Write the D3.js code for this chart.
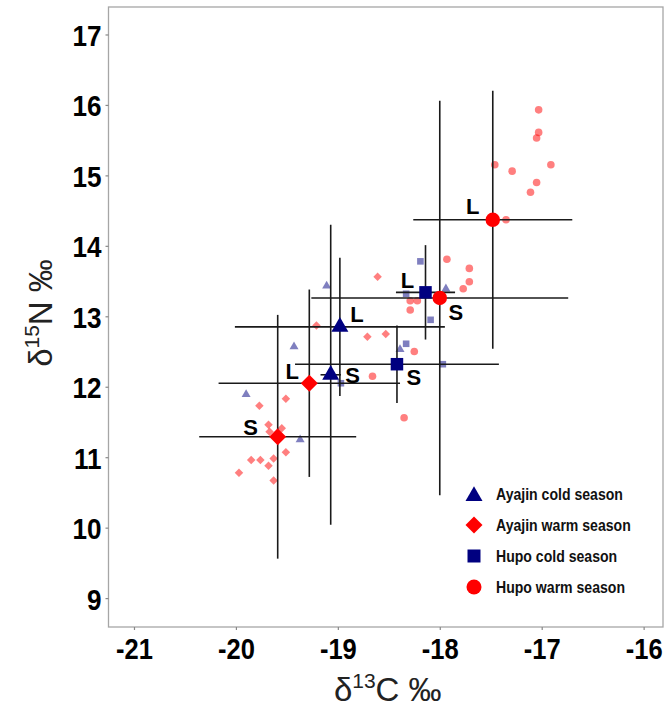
<!DOCTYPE html>
<html lang="en">
<head>
    <meta charset="UTF-8">
    <title>Isotope biplot</title>
    <script src="https://d3js.org/d3.v7.min.js"></script>
    <style>
        body {
            margin: 0;
            background-color: #fff;
        }
        svg {
            display: block;
            font-family: "Liberation Sans", Arial, sans-serif;
        }
    </style>
</head>
<body>
    <svg id="chart" width="669" height="720"></svg>
    <script>
        // Groups (legend order)
        const groups = ["Ayajin cold season", "Ayajin warm season", "Hupo cold season", "Hupo warm season"];

        // Group means, with season label and SD error bars
        const meanGroup = [3, 3, 2, 2, 0, 0, 1, 1];
        const meanLabel = ["L", "S", "L", "S", "L", "S", "L", "S"];
        const meanC = [-17.48, -18.00, -18.14, -18.42, -18.98, -19.07, -19.28, -19.59];
        const meanN = [14.37, 13.26, 13.34, 12.32, 12.85, 12.17, 12.05, 11.29];
        const sdC = [0.78, 1.26, 0.29, 1.00, 1.03, 0.10, 0.89, 0.77];
        const sdN = [1.83, 2.80, 0.67, 0.55, 0.98, 2.13, 1.33, 1.73];

        // Individual samples
        const ayajinColdC = [-19.11, -19.43, -19.90, -19.37, -18.39, -17.94];
        const ayajinColdN = [13.43, 12.57, 11.89, 11.25, 12.53, 13.39];
        const ayajinWarmC = [-18.61, -19.21, -18.71, -18.53, -19.51, -19.77, -19.68, -19.55, -19.67,
                             -19.51, -19.63, -19.76, -19.85, -19.68, -19.97, -19.63];
        const ayajinWarmN = [13.56, 12.87, 12.71, 12.75, 11.83, 11.73, 11.46, 11.41, 11.36,
                             11.07, 10.98, 10.96, 10.96, 10.88, 10.78, 10.67];
        const hupoColdC = [-18.19, -18.33, -18.09, -18.33, -17.97, -18.97];
        const hupoColdN = [13.78, 13.32, 12.95, 12.61, 12.32, 12.05];
        const hupoWarmC = [-17.03, -17.03, -17.05, -17.46, -17.29, -16.91, -17.05, -17.11, -17.35, -17.93,
                           -17.71, -17.71, -17.77, -18.29, -18.22, -18.29, -18.25, -18.35, -18.66];
        const hupoWarmN = [15.93, 15.61, 15.53, 15.15, 15.06, 15.15, 14.90, 14.76, 14.37, 13.81,
                           13.68, 13.49, 13.39, 13.22, 13.22, 13.09, 12.50, 11.56, 12.15];

        const xTicks = [-21, -20, -19, -18, -17, -16];
        const yTicks = [9, 10, 11, 12, 13, 14, 15, 16, 17];

        // Styling per group
        const groupColor = ["#000080", "#ff0000", "#000080", "#ff0000"];
        const groupShape = ["triangle", "diamond", "square", "circle"];

        const svg = d3.select("#chart");
        const plot = { left: 108.5, right: 663, top: 7, bottom: 627 };

        const x = d3.scaleLinear().domain([-21.25, -15.81]).range([plot.left, plot.right]);
        const y = d3.scaleLinear().domain([8.59, 17.39]).range([plot.bottom, plot.top]);

        // marker path generator; w = nominal width in px
        function markerPath(shape, w) {
            if (shape === "triangle") {
                const s = Math.pow(w / (2 * Math.sqrt(3)), 2) * 3 * Math.sqrt(3);
                return d3.symbol().type(d3.symbolTriangle).size(s)();
            }
            if (shape === "diamond") {
                const side = w / Math.SQRT2;
                return d3.symbol().type(d3.symbolSquare).size(side * side)();
            }
            if (shape === "square") {
                return d3.symbol().type(d3.symbolSquare).size(w * w)();
            }
            return d3.symbol().type(d3.symbolCircle).size(Math.PI * w * w / 4)();
        }
        function markerRot(shape) {
            return shape === "diamond" ? " rotate(45)" : "";
        }

        // panel frame
        svg.append("rect")
            .attr("x", plot.left)
            .attr("y", plot.top)
            .attr("width", plot.right - plot.left)
            .attr("height", plot.bottom - plot.top)
            .attr("fill", "none")
            .attr("stroke", "#a6a6a6")
            .attr("stroke-width", 1.3);

        // axes
        const xAxis = svg.append("g")
            .attr("transform", `translate(0,${plot.bottom})`)
            .call(d3.axisBottom(x).tickValues(xTicks).tickSize(3).tickFormat(d => String(d)));
        const yAxis = svg.append("g")
            .attr("transform", `translate(${plot.left},0)`)
            .call(d3.axisLeft(y).tickValues(yTicks).tickSize(3).tickFormat(d => String(d)));

        [xAxis, yAxis].forEach(a => {
            a.select(".domain").remove();
            a.selectAll(".tick line").attr("stroke", "#888").attr("stroke-width", 1.2);
            a.selectAll(".tick text")
                .attr("fill", "#000")
                .style("font-family", "'Liberation Sans', Arial, sans-serif")
                .style("font-size", "29px")
                .style("font-weight", "bold");
        });
        xAxis.selectAll(".tick text")
            .attr("y", 0).attr("dy", null)
            .attr("transform", "translate(0,32) scale(0.88,1)");
        yAxis.selectAll(".tick text")
            .attr("x", 0).attr("dy", null)
            .attr("text-anchor", "end")
            .attr("transform", "translate(-7,11) scale(0.9,1)");

        // axis titles
        const xTitle = svg.append("text")
            .attr("x", (plot.left + plot.right) / 2 + 2)
            .attr("y", 701)
            .attr("text-anchor", "middle")
            .style("font-size", "33px")
            .attr("fill", "#222");
        xTitle.append("tspan").text("δ");
        xTitle.append("tspan").attr("dy", -13).style("font-size", "21px").text("13");
        xTitle.append("tspan").attr("dy", 13).text("C ‰");

        const yTitle = svg.append("text")
            .attr("transform", `translate(52,${(plot.top + plot.bottom) / 2 - 4}) rotate(-90)`)
            .attr("text-anchor", "middle")
            .style("font-size", "33px")
            .attr("fill", "#222");
        yTitle.append("tspan").text("δ");
        yTitle.append("tspan").attr("dy", -13).style("font-size", "21px").text("15");
        yTitle.append("tspan").attr("dy", 13).text("N ‰");

        // individual samples
        const samples = [
            { g: 0, c: ayajinColdC, n: ayajinColdN, w: 9 },
            { g: 1, c: ayajinWarmC, n: ayajinWarmN, w: 8.5 },
            { g: 2, c: hupoColdC, n: hupoColdN, w: 6.6 },
            { g: 3, c: hupoWarmC, n: hupoWarmN, w: 7.6 }
        ];
        samples.forEach(s => {
            svg.append("g").selectAll("path")
                .data(d3.range(s.c.length))
                .enter()
                .append("path")
                .attr("d", markerPath(groupShape[s.g], s.w))
                .attr("transform", i => `translate(${x(s.c[i])},${y(s.n[i])})` + markerRot(groupShape[s.g]))
                .attr("fill", groupColor[s.g])
                .attr("fill-opacity", 0.5);
        });

        // error bars
        const idx = d3.range(meanC.length);
        const bars = svg.append("g").attr("stroke", "#1a1a1a").attr("stroke-width", 1.6);
        bars.selectAll("line.h")
            .data(idx).enter().append("line").attr("class", "h")
            .attr("x1", i => x(meanC[i] - sdC[i]))
            .attr("x2", i => x(meanC[i] + sdC[i]))
            .attr("y1", i => y(meanN[i]))
            .attr("y2", i => y(meanN[i]));
        bars.selectAll("line.v")
            .data(idx).enter().append("line").attr("class", "v")
            .attr("x1", i => x(meanC[i]))
            .attr("x2", i => x(meanC[i]))
            .attr("y1", i => y(meanN[i] - sdN[i]))
            .attr("y2", i => y(meanN[i] + sdN[i]));

        // mean markers
        const meanW = [17, 17, 12.5, 14.5];
        svg.append("g").selectAll("path")
            .data(idx).enter().append("path")
            .attr("d", i => markerPath(groupShape[meanGroup[i]], meanW[meanGroup[i]]))
            .attr("transform", i => `translate(${x(meanC[i])},${y(meanN[i])})` + markerRot(groupShape[meanGroup[i]]))
            .attr("fill", i => groupColor[meanGroup[i]]);

        // season labels (offsets in px from the mean)
        const labelDx = [-20, 16, -18, 17, 17, 22, -17, -27];
        const labelDy = [-14, 14, -12, 13, -13, 0, -12, -10];
        svg.append("g").selectAll("text")
            .data(idx).enter().append("text")
            .attr("x", i => x(meanC[i]) + labelDx[i])
            .attr("y", i => y(meanN[i]) + labelDy[i] + 8)
            .attr("text-anchor", "middle")
            .style("font-size", "22px")
            .style("font-weight", "bold")
            .attr("fill", "#000")
            .text(i => meanLabel[i]);

        // legend
        const legendSymW = [17, 17, 13, 15];
        const legend = svg.append("g").attr("transform", "translate(474,494)");
        const item = legend.selectAll("g")
            .data(groups).enter().append("g")
            .attr("transform", (d, i) => `translate(0,${i * 31})`);
        item.append("path")
            .attr("d", (d, i) => markerPath(groupShape[i], legendSymW[i]))
            .attr("transform", (d, i) => (i === 0 ? "translate(0,2)" : "") + markerRot(groupShape[i]))
            .attr("fill", (d, i) => groupColor[i]);
        item.append("text")
            .attr("transform", "translate(22,6) scale(0.88,1)")
            .style("font-size", "16px")
            .style("font-weight", "bold")
            .attr("fill", "#111")
            .text(d => d);
    </script>
</body>
</html>
